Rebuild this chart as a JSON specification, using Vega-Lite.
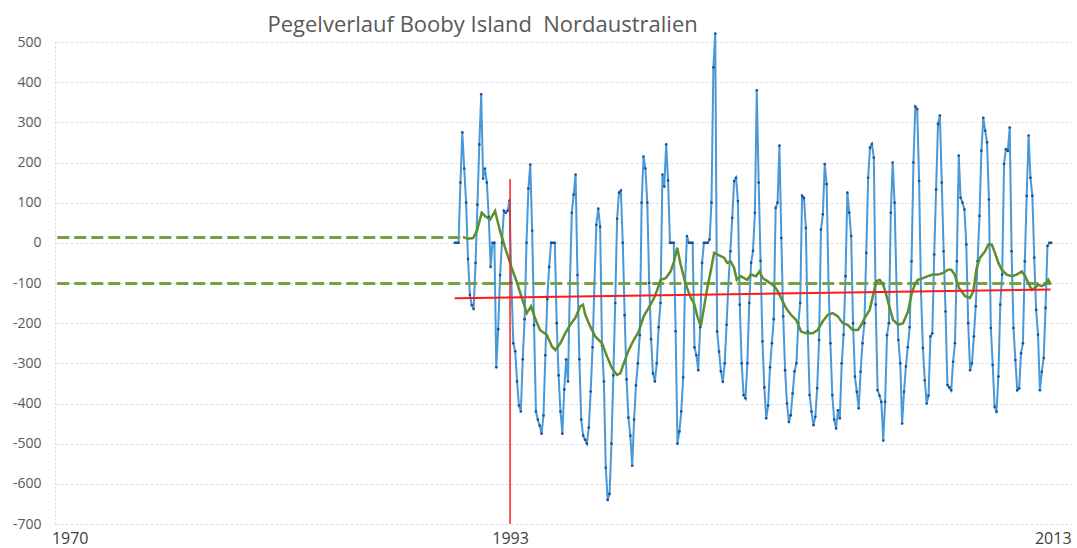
{
"$schema": "https://vega.github.io/schema/vega-lite/v6.json",
"width": 1017, "height": 482,
"autosize": "none",
"padding": {"left": 55, "top": 42, "right": 5, "bottom": 24},
"background": "white",
"title": {"text": "Pegelverlauf Booby Island\u00a0 Nordaustralien", "anchor": "start", "dx": 255, "offset": -7, "fontSize": 22, "font": "Open Sans", "fontWeight": "normal", "color": "#595959"},
"config": {"view": {"stroke": null}},
"datasets": {
"pegel": [
{"t":1986.75,"v":0},{"t":1986.833,"v":0},{"t":1986.917,"v":0},
{"t":1987,"v":150},{"t":1987.083,"v":275},{"t":1987.167,"v":185},{"t":1987.25,"v":100},{"t":1987.333,"v":-40},{"t":1987.417,"v":-130},{"t":1987.5,"v":-155},{"t":1987.583,"v":-165},{"t":1987.667,"v":-50},{"t":1987.75,"v":95},{"t":1987.833,"v":245},{"t":1987.917,"v":370},
{"t":1988,"v":160},{"t":1988.083,"v":185},{"t":1988.167,"v":150},{"t":1988.25,"v":65},{"t":1988.333,"v":-60},{"t":1988.417,"v":0},{"t":1988.5,"v":0},{"t":1988.583,"v":-310},{"t":1988.667,"v":-215},{"t":1988.75,"v":-80},{"t":1988.833,"v":0},{"t":1988.917,"v":80},
{"t":1989,"v":75},{"t":1989.083,"v":80},{"t":1989.167,"v":105},{"t":1989.25,"v":-100},{"t":1989.333,"v":-250},{"t":1989.417,"v":-270},{"t":1989.5,"v":-345},{"t":1989.583,"v":-405},{"t":1989.667,"v":-420},{"t":1989.75,"v":-290},{"t":1989.833,"v":-190},{"t":1989.917,"v":0},
{"t":1990,"v":135},{"t":1990.083,"v":195},{"t":1990.167,"v":30},{"t":1990.25,"v":-205},{"t":1990.333,"v":-420},{"t":1990.417,"v":-440},{"t":1990.5,"v":-455},{"t":1990.583,"v":-475},{"t":1990.667,"v":-430},{"t":1990.75,"v":-280},{"t":1990.833,"v":-140},{"t":1990.917,"v":-60},
{"t":1991,"v":0},{"t":1991.083,"v":0},{"t":1991.167,"v":0},{"t":1991.25,"v":-200},{"t":1991.333,"v":-330},{"t":1991.417,"v":-420},{"t":1991.5,"v":-475},{"t":1991.583,"v":-365},{"t":1991.667,"v":-290},{"t":1991.75,"v":-345},{"t":1991.833,"v":-100},{"t":1991.917,"v":75},
{"t":1992,"v":120},{"t":1992.083,"v":170},{"t":1992.167,"v":-80},{"t":1992.25,"v":-290},{"t":1992.333,"v":-440},{"t":1992.417,"v":-480},{"t":1992.5,"v":-490},{"t":1992.583,"v":-500},{"t":1992.667,"v":-460},{"t":1992.75,"v":-370},{"t":1992.833,"v":-260},{"t":1992.917,"v":-100},
{"t":1993,"v":45},{"t":1993.083,"v":85},{"t":1993.167,"v":40},{"t":1993.25,"v":-255},{"t":1993.333,"v":-345},{"t":1993.417,"v":-560},{"t":1993.5,"v":-640},{"t":1993.583,"v":-625},{"t":1993.667,"v":-500},{"t":1993.75,"v":-330},{"t":1993.833,"v":-150},{"t":1993.917,"v":60},
{"t":1994,"v":125},{"t":1994.083,"v":130},{"t":1994.167,"v":0},{"t":1994.25,"v":-180},{"t":1994.333,"v":-340},{"t":1994.417,"v":-435},{"t":1994.5,"v":-480},{"t":1994.583,"v":-555},{"t":1994.667,"v":-440},{"t":1994.75,"v":-355},{"t":1994.833,"v":-300},{"t":1994.917,"v":-230},
{"t":1995,"v":100},{"t":1995.083,"v":215},{"t":1995.167,"v":185},{"t":1995.25,"v":100},{"t":1995.333,"v":-100},{"t":1995.417,"v":-240},{"t":1995.5,"v":-325},{"t":1995.583,"v":-345},{"t":1995.667,"v":-300},{"t":1995.75,"v":-210},{"t":1995.833,"v":-150},{"t":1995.917,"v":170},
{"t":1996,"v":140},{"t":1996.083,"v":245},{"t":1996.167,"v":155},{"t":1996.25,"v":0},{"t":1996.333,"v":0},{"t":1996.417,"v":0},{"t":1996.5,"v":-220},{"t":1996.583,"v":-500},{"t":1996.667,"v":-470},{"t":1996.75,"v":-420},{"t":1996.833,"v":-335},{"t":1996.917,"v":-100},
{"t":1997,"v":17},{"t":1997.083,"v":0},{"t":1997.167,"v":0},{"t":1997.25,"v":0},{"t":1997.333,"v":-260},{"t":1997.417,"v":-280},{"t":1997.5,"v":-317},{"t":1997.583,"v":-210},{"t":1997.667,"v":-50},{"t":1997.75,"v":0},{"t":1997.833,"v":0},{"t":1997.917,"v":0},
{"t":1998,"v":8},{"t":1998.083,"v":100},{"t":1998.167,"v":437},{"t":1998.25,"v":521},{"t":1998.333,"v":-221},{"t":1998.417,"v":-271},{"t":1998.5,"v":-320},{"t":1998.583,"v":-346},{"t":1998.667,"v":-300},{"t":1998.75,"v":-204},{"t":1998.833,"v":-100},{"t":1998.917,"v":-21},
{"t":1999,"v":62},{"t":1999.083,"v":154},{"t":1999.167,"v":162},{"t":1999.25,"v":104},{"t":1999.333,"v":-154},{"t":1999.417,"v":-300},{"t":1999.5,"v":-379},{"t":1999.583,"v":-387},{"t":1999.667,"v":-300},{"t":1999.75,"v":-150},{"t":1999.833,"v":-50},{"t":1999.917,"v":-20},
{"t":2000,"v":75},{"t":2000.083,"v":380},{"t":2000.167,"v":150},{"t":2000.25,"v":-45},{"t":2000.333,"v":-245},{"t":2000.417,"v":-360},{"t":2000.5,"v":-437},{"t":2000.583,"v":-405},{"t":2000.667,"v":-310},{"t":2000.75,"v":-250},{"t":2000.833,"v":-190},{"t":2000.917,"v":87},
{"t":2001,"v":100},{"t":2001.083,"v":242},{"t":2001.167,"v":12},{"t":2001.25,"v":-183},{"t":2001.333,"v":-317},{"t":2001.417,"v":-400},{"t":2001.5,"v":-446},{"t":2001.583,"v":-429},{"t":2001.667,"v":-375},{"t":2001.75,"v":-320},{"t":2001.833,"v":-300},{"t":2001.917,"v":-200},
{"t":2002,"v":-150},{"t":2002.083,"v":117},{"t":2002.167,"v":112},{"t":2002.25,"v":37},{"t":2002.333,"v":-221},{"t":2002.417,"v":-379},{"t":2002.5,"v":-420},{"t":2002.583,"v":-454},{"t":2002.667,"v":-433},{"t":2002.75,"v":-362},{"t":2002.833,"v":-242},{"t":2002.917,"v":33},
{"t":2003,"v":71},{"t":2003.083,"v":196},{"t":2003.167,"v":146},{"t":2003.25,"v":-100},{"t":2003.333,"v":-250},{"t":2003.417,"v":-379},{"t":2003.5,"v":-440},{"t":2003.583,"v":-462},{"t":2003.667,"v":-417},{"t":2003.75,"v":-437},{"t":2003.833,"v":-300},{"t":2003.917,"v":-229},
{"t":2004,"v":-83},{"t":2004.083,"v":125},{"t":2004.167,"v":75},{"t":2004.25,"v":17},{"t":2004.333,"v":-200},{"t":2004.417,"v":-333},{"t":2004.5,"v":-371},{"t":2004.583,"v":-412},{"t":2004.667,"v":-321},{"t":2004.75,"v":-250},{"t":2004.833,"v":-200},{"t":2004.917,"v":-25},
{"t":2005,"v":162},{"t":2005.083,"v":237},{"t":2005.167,"v":246},{"t":2005.25,"v":212},{"t":2005.333,"v":-154},{"t":2005.417,"v":-367},{"t":2005.5,"v":-380},{"t":2005.583,"v":-396},{"t":2005.667,"v":-492},{"t":2005.75,"v":-396},{"t":2005.833,"v":-230},{"t":2005.917,"v":-200},
{"t":2006,"v":75},{"t":2006.083,"v":200},{"t":2006.167,"v":100},{"t":2006.25,"v":-100},{"t":2006.333,"v":-242},{"t":2006.417,"v":-300},{"t":2006.5,"v":-450},{"t":2006.583,"v":-371},{"t":2006.667,"v":-308},{"t":2006.75,"v":-260},{"t":2006.833,"v":-210},{"t":2006.917,"v":-46},
{"t":2007,"v":200},{"t":2007.083,"v":339},{"t":2007.167,"v":333},{"t":2007.25,"v":154},{"t":2007.333,"v":-121},{"t":2007.417,"v":-262},{"t":2007.5,"v":-342},{"t":2007.583,"v":-400},{"t":2007.667,"v":-380},{"t":2007.75,"v":-233},{"t":2007.833,"v":-225},{"t":2007.917,"v":-29},
{"t":2008,"v":133},{"t":2008.083,"v":296},{"t":2008.167,"v":317},{"t":2008.25,"v":150},{"t":2008.333,"v":-21},{"t":2008.417,"v":-171},{"t":2008.5,"v":-354},{"t":2008.583,"v":-360},{"t":2008.667,"v":-367},{"t":2008.75,"v":-296},{"t":2008.833,"v":-250},{"t":2008.917,"v":-46},
{"t":2009,"v":217},{"t":2009.083,"v":112},{"t":2009.167,"v":100},{"t":2009.25,"v":83},{"t":2009.333,"v":-4},{"t":2009.417,"v":-200},{"t":2009.5,"v":-317},{"t":2009.583,"v":-300},{"t":2009.667,"v":-233},{"t":2009.75,"v":-158},{"t":2009.833,"v":-46},{"t":2009.917,"v":67},
{"t":2010,"v":229},{"t":2010.083,"v":311},{"t":2010.167,"v":279},{"t":2010.25,"v":250},{"t":2010.333,"v":108},{"t":2010.417,"v":-212},{"t":2010.5,"v":-304},{"t":2010.583,"v":-408},{"t":2010.667,"v":-421},{"t":2010.75,"v":-333},{"t":2010.833,"v":-154},{"t":2010.917,"v":-79},
{"t":2011,"v":196},{"t":2011.083,"v":233},{"t":2011.167,"v":229},{"t":2011.25,"v":287},{"t":2011.333,"v":-21},{"t":2011.417,"v":-212},{"t":2011.5,"v":-292},{"t":2011.583,"v":-367},{"t":2011.667,"v":-362},{"t":2011.75,"v":-275},{"t":2011.833,"v":-250},{"t":2011.917,"v":-46},
{"t":2012,"v":117},{"t":2012.083,"v":267},{"t":2012.167,"v":162},{"t":2012.25,"v":117},{"t":2012.333,"v":-37},{"t":2012.417,"v":-167},{"t":2012.5,"v":-229},{"t":2012.583,"v":-367},{"t":2012.667,"v":-321},{"t":2012.75,"v":-287},{"t":2012.833,"v":-162},{"t":2012.917,"v":-8},
{"t":2013,"v":0},{"t":2013.083,"v":0}
],
"mittel": [
{"t":1987.11,"v":15},{"t":1987.33,"v":10},{"t":1987.56,"v":12},{"t":1987.73,"v":30},{"t":1987.94,"v":75},{"t":1988.08,"v":67},{"t":1988.31,"v":58},{"t":1988.53,"v":79},{"t":1988.75,"v":29},{"t":1988.97,"v":-12},
{"t":1989.26,"v":-62},{"t":1989.48,"v":-96},{"t":1989.71,"v":-137},{"t":1989.93,"v":-175},{"t":1990.12,"v":-158},{"t":1990.29,"v":-187},{"t":1990.51,"v":-217},{"t":1990.81,"v":-229},{"t":1991.04,"v":-258},{"t":1991.19,"v":-267},
{"t":1991.41,"v":-250},{"t":1991.63,"v":-225},{"t":1991.85,"v":-204},{"t":1992.07,"v":-187},{"t":1992.29,"v":-158},{"t":1992.41,"v":-154},{"t":1992.51,"v":-179},{"t":1992.73,"v":-208},{"t":1992.95,"v":-233},{"t":1993.25,"v":-250},
{"t":1993.47,"v":-283},{"t":1993.69,"v":-312},{"t":1993.91,"v":-329},{"t":1994.06,"v":-325},{"t":1994.21,"v":-300},{"t":1994.43,"v":-267},{"t":1994.65,"v":-242},{"t":1994.87,"v":-221},{"t":1995.09,"v":-183},{"t":1995.31,"v":-162},
{"t":1995.55,"v":-137},{"t":1995.69,"v":-117},{"t":1995.84,"v":-92},{"t":1996.06,"v":-88},{"t":1996.28,"v":-71},{"t":1996.43,"v":-46},{"t":1996.57,"v":-12},{"t":1996.72,"v":-54},{"t":1996.95,"v":-104},{"t":1997.17,"v":-137},
{"t":1997.31,"v":-150},{"t":1997.46,"v":-183},{"t":1997.61,"v":-208},{"t":1997.75,"v":-162},{"t":1997.9,"v":-112},{"t":1998.05,"v":-71},{"t":1998.2,"v":-25},{"t":1998.34,"v":-29},{"t":1998.49,"v":-33},{"t":1998.64,"v":-37},
{"t":1998.78,"v":-50},{"t":1998.93,"v":-46},{"t":1999.08,"v":-62},{"t":1999.2,"v":-92},{"t":1999.37,"v":-83},{"t":1999.52,"v":-88},{"t":1999.67,"v":-92},{"t":1999.82,"v":-79},{"t":2000.05,"v":-83},{"t":2000.2,"v":-71},
{"t":2000.35,"v":-88},{"t":2000.57,"v":-96},{"t":2000.86,"v":-108},{"t":2001.01,"v":-121},{"t":2001.15,"v":-137},{"t":2001.37,"v":-162},{"t":2001.59,"v":-179},{"t":2001.82,"v":-192},{"t":2002.04,"v":-221},{"t":2002.26,"v":-225},
{"t":2002.55,"v":-225},{"t":2002.77,"v":-217},{"t":2002.99,"v":-196},{"t":2003.22,"v":-179},{"t":2003.44,"v":-175},{"t":2003.66,"v":-183},{"t":2003.88,"v":-200},{"t":2004.1,"v":-204},{"t":2004.32,"v":-217},{"t":2004.55,"v":-217},
{"t":2004.7,"v":-204},{"t":2004.85,"v":-187},{"t":2005.07,"v":-167},{"t":2005.22,"v":-129},{"t":2005.36,"v":-96},{"t":2005.51,"v":-92},{"t":2005.66,"v":-104},{"t":2005.8,"v":-129},{"t":2005.95,"v":-162},{"t":2006.1,"v":-192},
{"t":2006.32,"v":-204},{"t":2006.54,"v":-200},{"t":2006.76,"v":-171},{"t":2006.91,"v":-129},{"t":2007.06,"v":-104},{"t":2007.2,"v":-92},{"t":2007.42,"v":-88},{"t":2007.64,"v":-83},{"t":2007.86,"v":-79},{"t":2008.09,"v":-79},
{"t":2008.31,"v":-75},{"t":2008.53,"v":-67},{"t":2008.67,"v":-67},{"t":2008.82,"v":-79},{"t":2009.01,"v":-112},{"t":2009.28,"v":-133},{"t":2009.5,"v":-137},{"t":2009.64,"v":-121},{"t":2009.79,"v":-62},{"t":2009.94,"v":-37},
{"t":2010.16,"v":-21},{"t":2010.31,"v":-4},{"t":2010.46,"v":-4},{"t":2010.6,"v":-25},{"t":2010.75,"v":-50},{"t":2010.9,"v":-67},{"t":2011.12,"v":-79},{"t":2011.34,"v":-83},{"t":2011.56,"v":-79},{"t":2011.78,"v":-71},
{"t":2011.93,"v":-83},{"t":2012.07,"v":-100},{"t":2012.22,"v":-117},{"t":2012.37,"v":-112},{"t":2012.51,"v":-104},{"t":2012.66,"v":-108},{"t":2012.81,"v":-104},{"t":2012.95,"v":-92},{"t":2013.06,"v":-104}
],
"niveau": [
{"s":"oben","t":1969.2,"v":13},{"s":"oben","t":1987.05,"v":13},
{"s":"unten","t":1969.2,"v":-101},{"s":"unten","t":2013.03,"v":-101}
],
"trend": [{"t":1986.75,"v":-138},{"t":2013.05,"v":-116}],
"marke": [{"t":1989.19,"v":-700,"v2":159}]
},
"encoding": {
"x": {"field": "t", "type": "quantitative", "title": null,
 "scale": {"domain": [1969.1, 2014.0], "nice": false, "zero": false},
 "axis": {"values": [1969.75, 1989.19, 2013.15], "labelExpr": "datum.value < 1980 ? '1970' : (datum.value < 2000 ? '1993' : '2013')", "grid": false, "ticks": false, "domain": false, "labelFlush": false, "labelPadding": 6, "labelFontSize": 16, "labelFont": "Open Sans", "labelColor": "#404040"}},
"y": {"field": "v", "type": "quantitative", "title": null,
 "scale": {"domain": [-700, 500], "nice": false, "zero": false},
 "axis": {"values": [-700,-600,-500,-400,-300,-200,-100,0,100,200,300,400,500], "labelExpr": "datum.value + ''", "grid": true, "gridColor": "#d6e0ea", "gridDash": [3, 2], "ticks": false, "domain": true, "domainColor": "#cfd8cc", "domainDash": [2, 2], "labelPadding": 14, "labelFontSize": 14, "labelFont": "Open Sans", "labelColor": "#595959"}}
},
"layer": [
{"data": {"name": "pegel"}, "mark": {"type": "line", "color": "#4799da", "strokeWidth": 2, "point": {"filled": true, "fill": "#1f4e8c", "size": 7}}},
{"data": {"name": "niveau"}, "mark": {"type": "line", "color": "#77a046", "strokeWidth": 3, "strokeDash": [12, 5]}, "encoding": {"detail": {"field": "s"}}},
{"data": {"name": "mittel"}, "mark": {"type": "line", "color": "#5e8e2e", "strokeWidth": 2.5}},
{"data": {"name": "trend"}, "mark": {"type": "line", "color": "#ff1a1a", "strokeWidth": 2}},
{"data": {"name": "marke"}, "mark": {"type": "rule", "color": "#ff2020", "strokeWidth": 1.5}, "encoding": {"y2": {"field": "v2"}}}
]
}
